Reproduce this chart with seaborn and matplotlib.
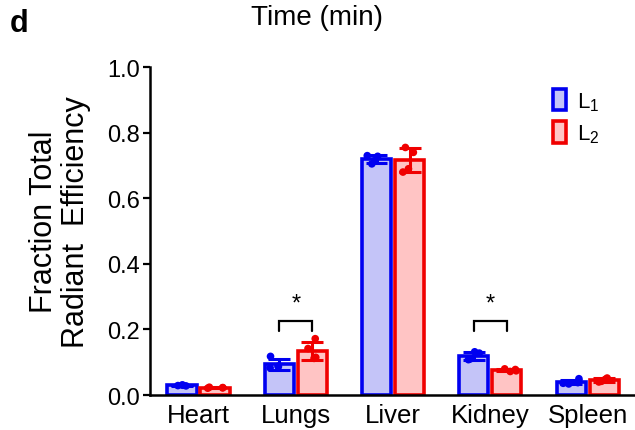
import numpy as np
import pandas as pd
import matplotlib
matplotlib.use("Agg")
import matplotlib.pyplot as plt
import matplotlib.patches as mpatches
import seaborn as sns

# ---- data ----
organs = ["Heart", "Lungs", "Liver", "Kidney", "Spleen"]
groups = ["L1", "L2"]
l1_values = {
    "Heart":  [0.030, 0.028, 0.029, 0.031],
    "Lungs":  [0.118, 0.088, 0.083, 0.087],
    "Liver":  [0.730, 0.728, 0.705, 0.715],
    "Kidney": [0.132, 0.128, 0.110, 0.108],
    "Spleen": [0.050, 0.038, 0.034, 0.036],
}
l2_values = {
    "Heart":  [0.022, 0.023, 0.021, 0.024],
    "Lungs":  [0.172, 0.142, 0.115, 0.112],
    "Liver":  [0.755, 0.740, 0.690, 0.680],
    "Kidney": [0.080, 0.078, 0.074, 0.072],
    "Spleen": [0.052, 0.048, 0.042, 0.040],
}
yticks = [0.0, 0.2, 0.4, 0.6, 0.8, 1.0]
sig_pairs = ["Lungs", "Kidney"]
legend_labels = [r"L$\mathregular{_1}$", r"L$\mathregular{_2}$"]

rows = []
for g, vals in zip(groups, [l1_values, l2_values]):
    for o in organs:
        for v in vals[o]:
            rows.append({"organ": o, "group": g, "value": v})
df = pd.DataFrame(rows)

# ---- style ----
sns.set_style("ticks")
plt.rcParams["font.family"] = ["Liberation Sans", "DejaVu Sans"]
plt.rcParams["mathtext.default"] = "regular"
plt.rcParams["text.color"] = "black"
plt.rcParams["xtick.color"] = "black"
plt.rcParams["ytick.color"] = "black"
plt.rcParams["axes.edgecolor"] = "black"

edge_cols = {"L1": "#0000F0", "L2": "#F00000"}
fill_cols = {"L1": "#C4C4F8", "L2": "#FFC4C4"}

fig = plt.figure(figsize=(6.35, 4.31), dpi=100)
ax = fig.add_axes([0.236, 0.081, 0.766, 0.761])

W = 0.68
sns.barplot(data=df, x="organ", y="value", hue="group", order=organs,
            hue_order=groups, palette=fill_cols, saturation=1, width=W, gap=0.12,
            errorbar="sd", capsize=0.45, err_kws={"linewidth": 2.2},
            legend=False, ax=ax, zorder=2)
for cont, g in zip(ax.containers, groups):
    for p in cont:
        p.set_edgecolor(edge_cols[g])
        p.set_linewidth(2.6)
# recolor error bars
for ln in ax.lines:
    x0 = ln.get_xdata()[0]
    g = "L1" if x0 - round(x0) < 0 else "L2"
    ln.set_color(edge_cols[g])
    ln.set_zorder(4)
    ln.set_solid_capstyle("butt")

np.random.seed(3)
n_before = len(ax.collections)
sns.stripplot(data=df, x="organ", y="value", hue="group", order=organs,
              hue_order=groups, palette=edge_cols, dodge=True, jitter=0.2,
              size=5.5, legend=False, ax=ax, zorder=5)
# align point clouds with the narrower dodged bars
shift = 0.2 - W / 4
for coll in ax.collections[n_before:]:
    off = coll.get_offsets()
    if len(off) == 0:
        continue
    off = np.array(off)
    d = off[:, 0] - np.round(off[:, 0])
    off[:, 0] = np.where(d < 0, off[:, 0] + shift, off[:, 0] - shift)
    coll.set_offsets(off)

# significance brackets
for o in sig_pairs:
    i = organs.index(o)
    xl, xr = i - W / 4, i + W / 4
    ax.plot([xl, xl, xr, xr], [0.195, 0.226, 0.226, 0.195], color="black",
            lw=1.6, zorder=6, solid_joinstyle="miter")
    ax.text(i, 0.245, "*", ha="center", va="bottom", fontsize=17)

ax.set_xlim(-0.5, 4.5)
ax.set_ylim(0, 1.0)
ax.set_yticks(yticks)
ax.set_yticklabels([f"{t:.1f}" for t in yticks])
ax.tick_params(axis="y", labelsize=17, width=1.6, length=5, pad=2)
ax.tick_params(axis="x", labelsize=18.5, length=0, pad=6)
ax.set_xlabel("")
ax.set_ylabel("")
sns.despine(ax=ax)
for s in ["left", "bottom"]:
    ax.spines[s].set_linewidth(1.8)

handles = [mpatches.Patch(facecolor=fill_cols[g], edgecolor=edge_cols[g],
                          linewidth=2.6) for g in groups]
ax.legend(handles, legend_labels, loc="upper right", bbox_to_anchor=(0.965, 0.995),
          frameon=False, fontsize=16, handlelength=0.55, handleheight=1.1,
          handletextpad=0.5, labelspacing=0.4)

fig.text(0.095, 1 - 222 / 431, "Fraction Total\nRadiant  Efficiency", rotation=90,
         ha="center", va="center", multialignment="center", fontsize=22,
         linespacing=1.1)
fig.text(0.499, 1 - 18 / 431, "Time (min)", ha="center", va="center", fontsize=20)
fig.text(0.015, 1 - 24 / 431, "d", ha="left", va="center", fontsize=22,
         fontweight="bold")

fig.savefig("out.png", dpi=100)
